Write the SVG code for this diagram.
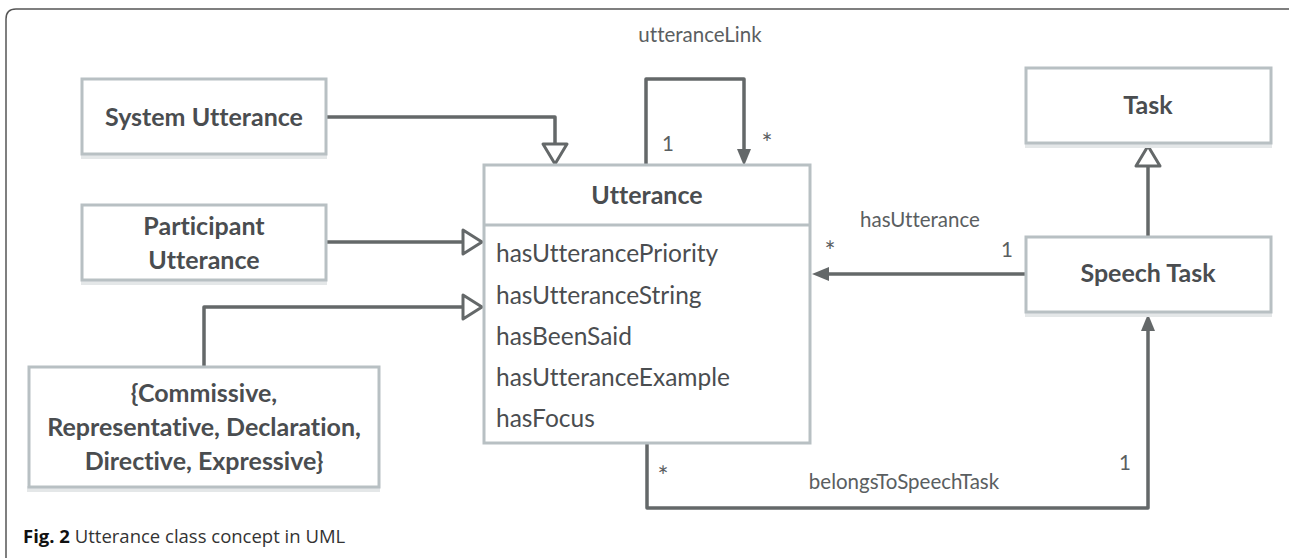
<svg xmlns="http://www.w3.org/2000/svg" width="1289" height="558" viewBox="0 0 1289 558">
  <style>
    text { font-variant-ligatures: none; }
    .box { fill: #ffffff; stroke: #b8c0c3; stroke-width: 3; }
    .shadow { fill: #e4e7e8; }
    .title { font-family: Lato, "Noto Sans", sans-serif; font-weight: bold; font-size: 25px; fill: #4a4d50; text-anchor: middle; }
    .attr { font-family: Lato, "Noto Sans", sans-serif; font-size: 24.5px; fill: #4a4d50; }
    .lbl { font-family: Lato, "Noto Sans", sans-serif; font-size: 20.5px; fill: #5a5e61; text-anchor: middle; }
    .star { font-family: Lato, "Noto Sans", sans-serif; font-size: 26px; fill: #5a5e61; text-anchor: middle; }
    .hollow { fill: #ffffff; stroke: #646869; stroke-width: 3; stroke-linejoin: round; }
    .solid { fill: #646869; }
    .conn { fill: none; stroke: #646869; stroke-width: 3.5; stroke-linejoin: round; }
    .caption { font-family: "Open Sans", "Liberation Sans", sans-serif; font-size: 18.5px; fill: #333333; }
  </style>

  <!-- figure frame -->
  <path d="M6,558 L6,19 Q6,9 16,9 L1289,9" fill="none" stroke="#555555" stroke-width="1.5"/>

  <!-- connectors -->
  <g id="connectors">
    <path class="conn" d="M327,117 L555,117 L555,144"/>
    <path class="hollow" d="M543,144 L567,144 L555,164 Z"/>
    <path class="conn" d="M326,242 L463,242"/>
    <path class="hollow" d="M463,230 L463,254 L482,242 Z"/>
    <path class="conn" d="M204,367 L204,307 L463,307"/>
    <path class="hollow" d="M463,295 L463,319 L482,307 Z"/>
    <path class="conn" d="M1148,237 L1148,166"/>
    <path class="hollow" d="M1136,166 L1160,166 L1148,146 Z"/>
    <path class="conn" d="M646,165 L646,79 L744,79 L744,152"/>
    <path class="solid" d="M737,149 L751,149 L744,166 Z"/>
    <path class="conn" d="M1026,274 L826,274"/>
    <path class="solid" d="M829,267 L829,281 L812,274 Z"/>
    <path class="conn" d="M647,443 L647,508 L1148,508 L1148,328"/>
    <path class="solid" d="M1141,331 L1155,331 L1148,314 Z"/>
    <text class="lbl" x="700" y="42">utteranceLink</text>
    <text class="lbl" x="668" y="151">1</text>
    <text class="star" x="767" y="153">*</text>
    <text class="lbl" x="920" y="227">hasUtterance</text>
    <text class="star" x="830" y="261">*</text>
    <text class="lbl" x="1007" y="257">1</text>
    <text class="lbl" x="904" y="489">belongsToSpeechTask</text>
    <text class="star" x="663" y="486">*</text>
    <text class="lbl" x="1125" y="470">1</text>
  </g>

  <g id="system-utterance">
    <rect class="shadow" x="81" y="153" width="246" height="6"/>
    <rect class="box" x="82" y="79" width="244" height="75"/>
    <text class="title" x="204" y="126">System Utterance</text>
  </g>

  <g id="participant-utterance">
    <rect class="shadow" x="81" y="279" width="246" height="6"/>
    <rect class="box" x="82" y="205" width="244" height="75"/>
    <text class="title" x="204" y="235">Participant</text>
    <text class="title" x="204" y="269">Utterance</text>
  </g>

  <g id="speech-acts">
    <rect class="shadow" x="27" y="486" width="353" height="6"/>
    <rect class="box" x="29" y="367" width="350" height="120"/>
    <text class="title" x="204" y="402">{Commissive,</text>
    <text class="title" x="204" y="436">Representative, Declaration,</text>
    <text class="title" x="204" y="470">Directive, Expressive}</text>
  </g>

  <g id="utterance">
    <rect class="box" x="484" y="165" width="326" height="278"/>
    <line x1="484" y1="225" x2="810" y2="225" stroke="#b8c0c3" stroke-width="3"/>
    <text class="title" x="647" y="204">Utterance</text>
    <text class="attr" x="496" y="262">hasUtterancePriority</text>
    <text class="attr" x="496" y="304">hasUtteranceString</text>
    <text class="attr" x="496" y="345">hasBeenSaid</text>
    <text class="attr" x="496" y="386">hasUtteranceExample</text>
    <text class="attr" x="496" y="427">hasFocus</text>
  </g>

  <g id="task">
    <rect class="shadow" x="1025" y="142" width="247" height="6"/>
    <rect class="box" x="1026" y="68" width="245" height="75"/>
    <text class="title" x="1148" y="114">Task</text>
  </g>

  <g id="speech-task">
    <rect class="shadow" x="1025" y="311" width="247" height="6"/>
    <rect class="box" x="1026" y="237" width="245" height="75"/>
    <text class="title" x="1148" y="282">Speech Task</text>
  </g>

  <text class="caption" x="23" y="543"><tspan font-weight="bold" fill="#111111">Fig. 2</tspan> Utterance class concept in UML</text>
</svg>
